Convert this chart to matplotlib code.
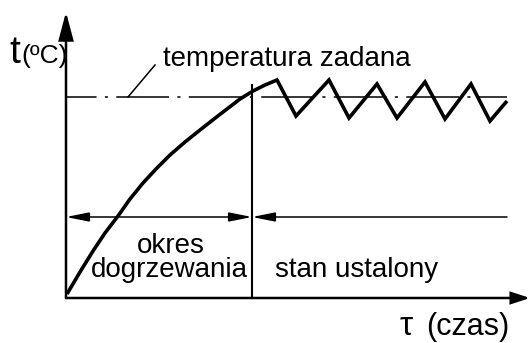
import matplotlib
matplotlib.use("Agg")
import matplotlib.pyplot as plt
from matplotlib.patches import FancyArrowPatch

plt.rcParams["font.family"] = ["Liberation Sans", "DejaVu Sans"]
plt.rcParams["lines.scale_dashes"] = False

# picture coordinates (px, y grows downward)
W, H = 532, 343
X0, Y0 = 66, 298          # origin of the t / tau axes
Y_TOP, X_END = 12, 530    # arrow tips
T_SET = 97                # set temperature level
X_SPLIT = 252             # end of warm-up period
Y_DIM = 217               # dimension line level
X_DIM_END = 507

# warm-up curve
heat_x = [67, 80, 93, 105, 118, 130, 143, 156, 170, 185, 200, 214, 227, 240, 253, 265, 277]
heat_y = [294, 272, 251, 233, 216, 199, 183, 169, 155, 142, 130, 119, 109, 99, 91, 85, 80]

# steady-state oscillation (peaks / troughs)
osc_x = [296, 329, 349, 377, 397, 425, 445, 471, 490, 507]
osc_y = [116, 80, 118, 84, 118, 82, 119, 84, 121, 101]

fig = plt.figure(figsize=(W / 100, H / 100), dpi=100)
ax = fig.add_axes([0, 0, 1, 1])
ax.set_xlim(0, W)
ax.set_ylim(H, 0)
ax.axis("off")


def arrow(p0, p1, style, hl, hw, lw):
    a = FancyArrowPatch(p0, p1, arrowstyle=f"{style},head_length={hl},head_width={hw}",
                        mutation_scale=1, shrinkA=0, shrinkB=0,
                        lw=lw, color="black", joinstyle="miter")
    ax.add_patch(a)


# axes
arrow((X0, Y0), (X0, Y_TOP), "-|>", 17, 4.5, 1.8)
arrow((X0, Y0), (X_END, Y0), "-|>", 11, 3.6, 1.8)

# set temperature (dash-dot) and its leader
ax.plot([X0, X_DIM_END], [T_SET, T_SET], color="black", lw=1.1,
        linestyle=(16, (38, 6, 2.2, 6)))
ax.plot([128, 155], [T_SET, 65], color="black", lw=1.1)

# divider between periods
ax.plot([X_SPLIT, X_SPLIT], [85, Y0], color="black", lw=1.5)

# dimension lines
arrow((X0, Y_DIM), (X_SPLIT, Y_DIM), "<|-|>", 14, 2.8, 1.1)
arrow((X_DIM_END, Y_DIM), (X_SPLIT, Y_DIM), "-|>", 14, 2.8, 1.1)

# temperature course
ax.plot(heat_x + osc_x, heat_y + osc_y, color="black", lw=2.6,
        solid_joinstyle="miter", solid_capstyle="butt")

# texts
ax.text(9, 63, "t", fontsize=28, va="baseline", ha="left")
ax.text(21, 63, "(ºC)", fontsize=19, va="baseline", ha="left")
ax.text(163, 66, "temperatura zadana", fontsize=20, va="baseline", ha="left")
ax.text(171, 253, "okres", fontsize=20, va="baseline", ha="center")
ax.text(169, 277, "dogrzewania", fontsize=20, va="baseline", ha="center")
ax.text(275, 277, "stan ustalony", fontsize=20, va="baseline", ha="left")
ax.text(400, 335, "τ", fontsize=24, va="baseline", ha="left")
ax.text(426, 335, "(czas)", fontsize=22, va="baseline", ha="left")

fig.savefig("out.png", dpi=100)
